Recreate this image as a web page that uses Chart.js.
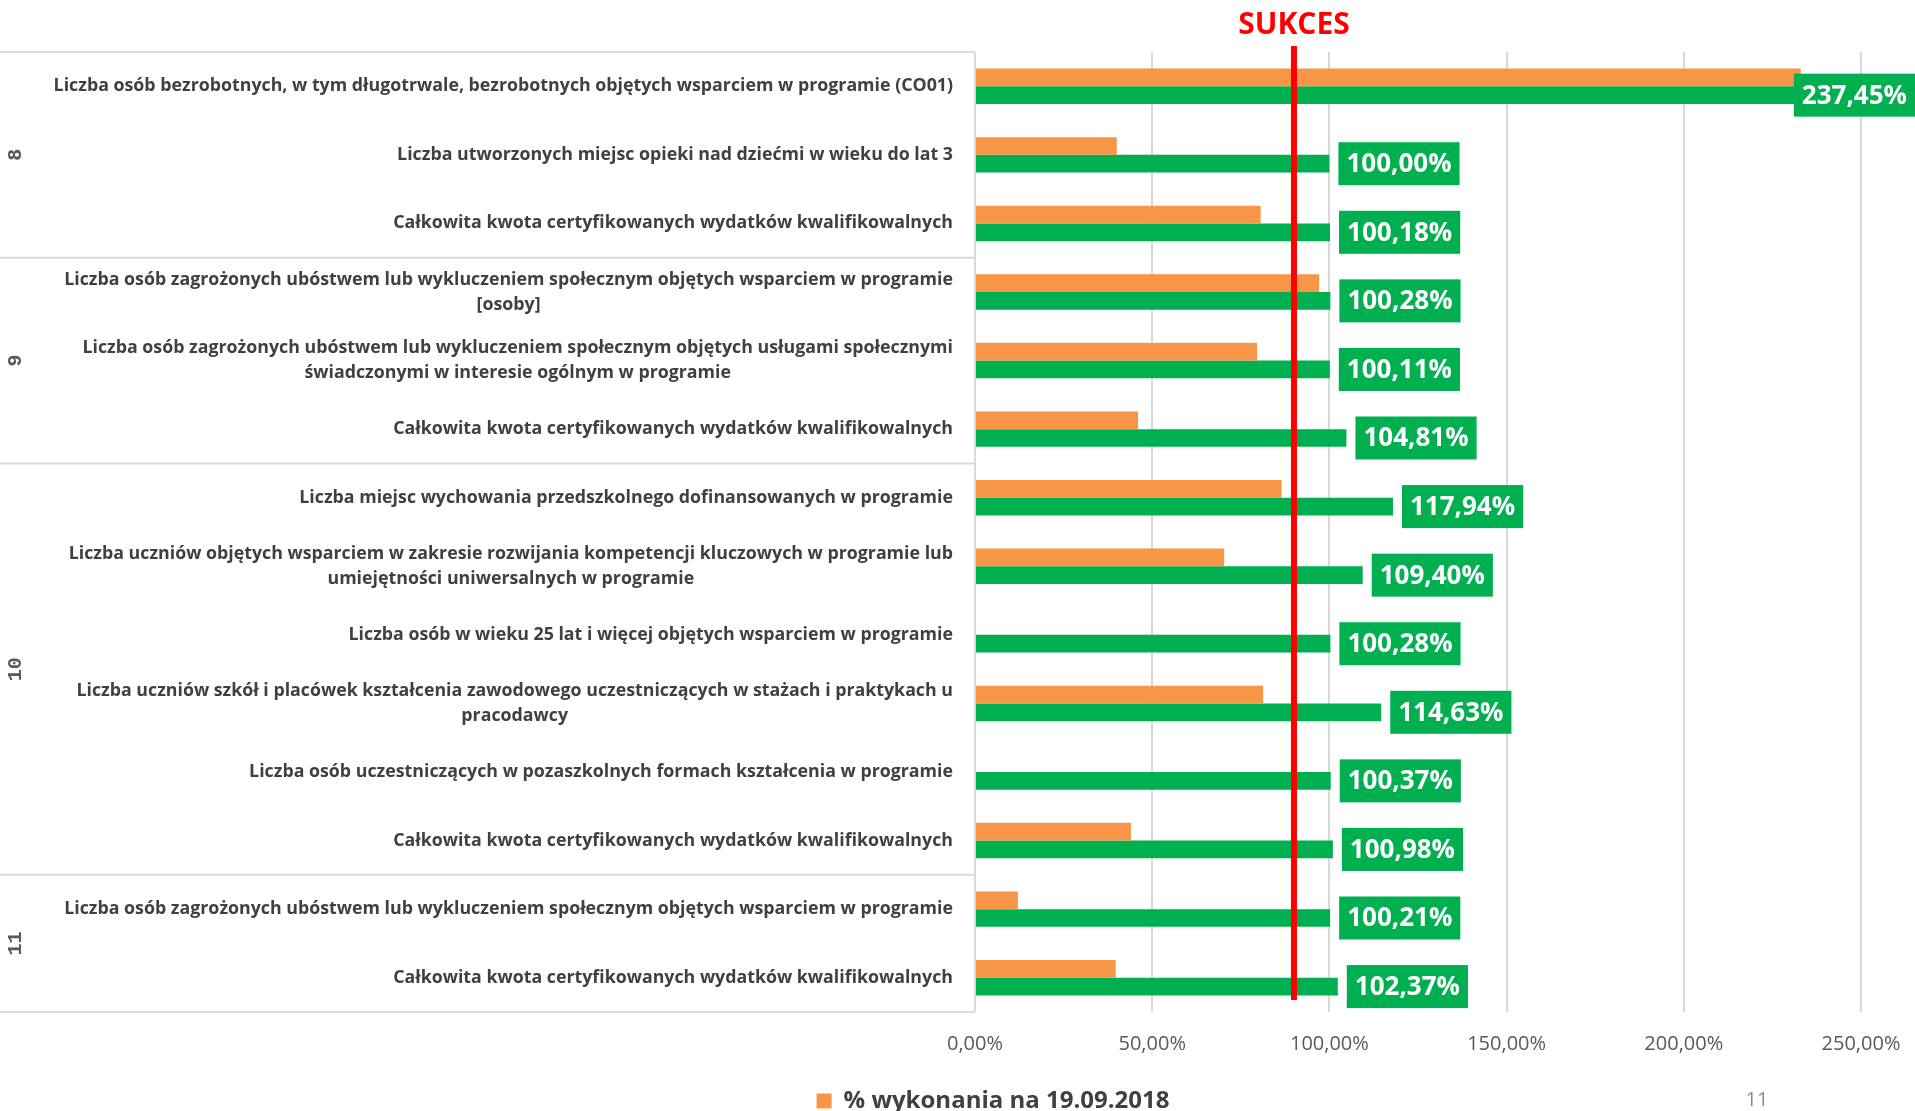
<!DOCTYPE html>
<html><head><meta charset="utf-8">
<script src="https://cdn.jsdelivr.net/npm/chart.js@4"></script>
<style>
html,body{margin:0;padding:0;overflow:hidden;background:#fff;width:1915px;height:1111px}
#wrap{position:relative;width:1915px;height:1123px}
</style></head><body><div id="wrap"><canvas id="c" width="1915" height="1123"></canvas></div>
<script>
const categories = [
 ['Liczba osób bezrobotnych, w tym długotrwale, bezrobotnych objętych wsparciem w programie (CO01)'],
 ['Liczba utworzonych miejsc opieki nad dziećmi w wieku do lat 3'],
 ['Całkowita kwota certyfikowanych wydatków kwalifikowalnych'],
 ['Liczba osób zagrożonych ubóstwem lub wykluczeniem społecznym objętych wsparciem w programie','[osoby]'],
 ['Liczba osób zagrożonych ubóstwem lub wykluczeniem społecznym objętych usługami społecznymi','świadczonymi w interesie ogólnym w programie'],
 ['Całkowita kwota certyfikowanych wydatków kwalifikowalnych'],
 ['Liczba miejsc wychowania przedszkolnego dofinansowanych w programie'],
 ['Liczba uczniów objętych wsparciem w zakresie rozwijania kompetencji kluczowych w programie lub','umiejętności uniwersalnych w programie'],
 ['Liczba osób w wieku 25 lat i więcej objętych wsparciem w programie'],
 ['Liczba uczniów szkół i placówek kształcenia zawodowego uczestniczących w stażach i praktykach u','pracodawcy'],
 ['Liczba osób uczestniczących w pozaszkolnych formach kształcenia w programie'],
 ['Całkowita kwota certyfikowanych wydatków kwalifikowalnych'],
 ['Liczba osób zagrożonych ubóstwem lub wykluczeniem społecznym objętych wsparciem w programie'],
 ['Całkowita kwota certyfikowanych wydatków kwalifikowalnych']
];
const groupNames = ['8', '9', '10', '11'];
const groupSizes = [3, 3, 6, 2];
const progressValues = [233.0, 40.0, 80.6, 97.1, 79.6, 46.0, 86.5, 70.3, null, 81.3, null, 44.0, 12.1, 39.7];
const targetValues = [237.45, 100.00, 100.18, 100.28, 100.11, 104.81, 117.94, 109.40, 100.28, 114.63, 100.37, 100.98, 100.21, 102.37];
const xTicks = [0, 50, 100, 150, 200, 250];
const successLevel = 90;
const successText = 'SUKCES';
const progressLabel = '% wykonania na 19.09.2018';
const targetLabel = '% realizacji';
const pageNumber = '11';

const fmt = v => v.toFixed(2).replace('.', ',') + '%';

const decor = {
  id: 'decor',
  afterDatasetsDraw(chart) {
    const {ctx, chartArea: ca, scales: {x}} = chart;
    const rx = x.getPixelForValue(successLevel);
    ctx.save();
    ctx.strokeStyle = '#ff0000';
    ctx.lineWidth = 6;
    ctx.beginPath();
    ctx.moveTo(rx, ca.top - 6);
    ctx.lineTo(rx, ca.bottom - 12);
    ctx.stroke();
    const meta = chart.getDatasetMeta(1);
    ctx.font = 'bold 26px "Open Sans"';
    ctx.textAlign = 'center';
    ctx.textBaseline = 'middle';
    meta.data.forEach((bar, i) => {
      const txt = fmt(targetValues[i]);
      const tw = ctx.measureText(txt).width;
      const bw = tw + 16, bh = 43;
      let bx = bar.x + 9;
      if (bx + bw > chart.width) bx = chart.width - bw;
      ctx.fillStyle = '#00b050';
      ctx.fillRect(bx, bar.y - bh / 2, bw, bh);
      ctx.fillStyle = '#ffffff';
      ctx.fillText(txt, bx + bw / 2, bar.y + 1);
    });
    ctx.restore();
  },
  afterDraw(chart) {
    const {ctx, chartArea: ca, scales: {x, y}} = chart;
    ctx.save();
    ctx.strokeStyle = '#d9d9d9';
    ctx.lineWidth = 2;
    const bounds = [ca.top];
    let idx = 0;
    groupSizes.forEach(n => {
      idx += n;
      if (idx < categories.length) {
        bounds.push((y.getPixelForValue(idx - 1) + y.getPixelForValue(idx)) / 2);
      }
    });
    bounds.push(ca.bottom);
    bounds.forEach(b => {
      ctx.beginPath();
      ctx.moveTo(0, b);
      ctx.lineTo(ca.left, b);
      ctx.stroke();
    });
    ctx.fillStyle = '#404040';
    ctx.font = 'bold 17.8px "Open Sans"';
    ctx.textAlign = 'center';
    ctx.textBaseline = 'middle';
    const lh = 25;
    categories.forEach((lines, i) => {
      const yc = y.getPixelForValue(i);
      const bw = Math.max(...lines.map(l => ctx.measureText(l).width));
      const cx = ca.left - 22 - bw / 2;
      const y0 = yc - (lines.length - 1) * lh / 2;
      lines.forEach((l, k) => ctx.fillText(l, cx, y0 + k * lh));
    });
    ctx.fillStyle = '#595959';
    ctx.font = 'bold 20px "Liberation Mono"';
    for (let g = 0; g < groupNames.length; g++) {
      const yc = (bounds[g] + bounds[g + 1]) / 2;
      ctx.save();
      ctx.translate(16, yc);
      ctx.rotate(-Math.PI / 2);
      ctx.fillText(groupNames[g], 0, 0);
      ctx.restore();
    }
    ctx.fillStyle = '#ff0000';
    ctx.font = 'bold 30px "Open Sans"';
    ctx.fillText(successText, x.getPixelForValue(successLevel), 25);
    ctx.fillStyle = '#8c8c8c';
    ctx.font = '20px "Open Sans"';
    ctx.fillText(pageNumber, 1757, 1100);
    ctx.restore();
  }
};

new Chart(document.getElementById('c'), {
  type: 'bar',
  data: {
    labels: categories,
    datasets: [
      {label: progressLabel, data: progressValues, backgroundColor: '#f79646', borderWidth: 0, categoryPercentage: 0.517, barPercentage: 1},
      {label: targetLabel, data: targetValues, backgroundColor: '#00b050', borderWidth: 0, categoryPercentage: 0.517, barPercentage: 1}
    ]
  },
  options: {
    indexAxis: 'y',
    responsive: false,
    animation: false,
    layout: {padding: {top: 52, left: 125, right: 54, bottom: 0}},
    plugins: {
      legend: {
        position: 'bottom',
        labels: {
          filter: item => item.datasetIndex === 0,
          boxWidth: 15, boxHeight: 15, padding: 13,
          color: '#404040',
          font: {family: 'Open Sans', size: 24, weight: 'bold'}
        }
      },
      tooltip: {enabled: false}
    },
    scales: {
      x: {
        min: 0, max: 250,
        afterBuildTicks: s => { s.ticks = xTicks.map(v => ({value: v})); },
        afterFit: s => { s.paddingRight = 0; s.paddingLeft = 0; },
        grid: {color: '#d9d9d9', lineWidth: 2, drawTicks: false},
        border: {display: false},
        ticks: {padding: 20, color: '#595959', font: {family: 'Open Sans', size: 20}, callback: v => fmt(v)}
      },
      y: {
        grid: {display: false},
        border: {display: false},
        ticks: {display: false},
        afterFit: s => { s.width = 850; }
      }
    }
  },
  plugins: [decor]
});
</script></body></html>
